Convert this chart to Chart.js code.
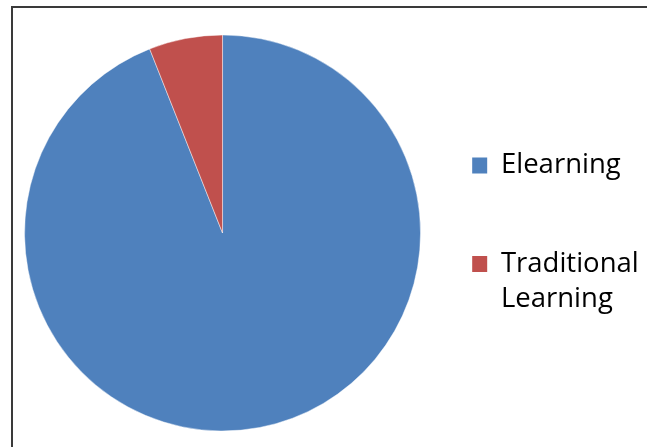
<!DOCTYPE html>
<html>
<head>
<meta charset="utf-8">
<script src="https://cdn.jsdelivr.net/npm/chart.js@4"></script>
<style>
  html, body { margin: 0; padding: 0; background: #ffffff; overflow: hidden; width: 647px; height: 447px; }
  #frame { position: absolute; left: 11px; top: 6px; width: 700px; height: 500px;
           border-left: 2px solid #3a3a3a; border-top: 2px solid #3a3a3a; box-sizing: border-box; }
  #wrap { position: absolute; left: 0; top: 0; width: 700px; height: 447px; }
</style>
</head>
<body>
<div id="frame"></div>
<div id="wrap"><canvas id="chart" width="700" height="447"></canvas></div>
<script>
const categories = [['Elearning', ''], ['Traditional', 'Learning']];
const shares = [94, 6];
const sliceColors = ['#4F81BD', '#C0504D'];

new Chart(document.getElementById('chart'), {
  type: 'pie',
  data: {
    labels: categories,
    datasets: [{
      data: shares,
      backgroundColor: sliceColors,
      borderColor: 'rgba(255,255,255,0.45)',
      borderWidth: 1
    }]
  },
  options: {
    responsive: false,
    animation: false,
    devicePixelRatio: 1,
    layout: { padding: { top: 34.5, bottom: 15.5, left: 1.6, right: 51.25 } },
    plugins: {
      tooltip: { enabled: false },
      legend: {
        position: 'right',
        title: { display: true, text: '', padding: 0, font: { size: 6, lineHeight: 1 } },
        labels: {
          boxWidth: 15,
          boxHeight: 16,
          padding: 28.7,
          color: '#000000',
          font: { family: '"Open Sans", sans-serif', size: 27.5, lineHeight: 35 / 27.5 },
          generateLabels: (chart) => {
            const ds = chart.data.datasets[0];
            return chart.data.labels.map((lab, i) => ({
              text: lab,
              fillStyle: ds.backgroundColor[i],
              strokeStyle: ds.backgroundColor[i],
              lineWidth: 0,
              fontColor: '#000000',
              hidden: false,
              index: i
            }));
          }
        }
      }
    }
  }
});
</script>
</body>
</html>
